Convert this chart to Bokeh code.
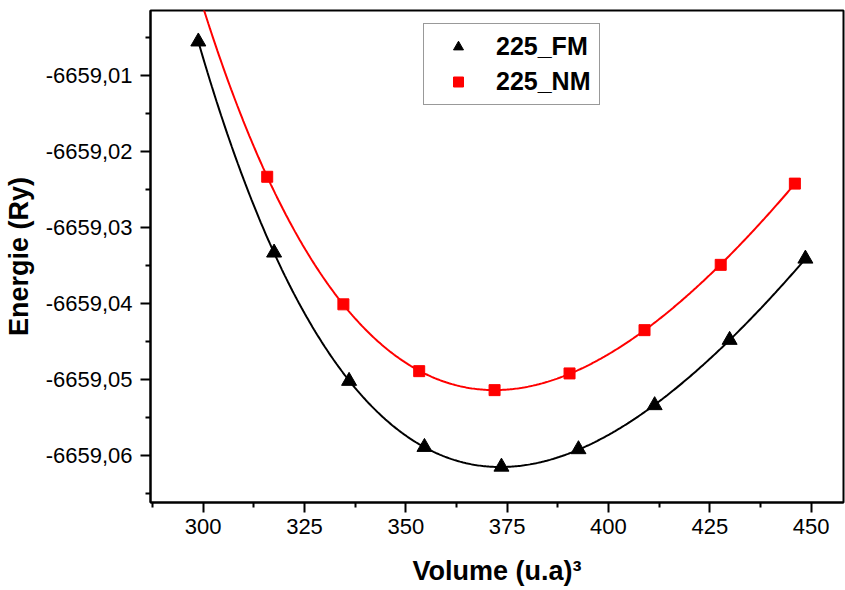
import numpy as np
from bokeh.plotting import figure
from bokeh.models import Range1d, FixedTicker, Legend, LegendItem
from bokeh.embed import file_html
from bokeh.resources import INLINE

# ---- data ----
fm_volume = [298.8, 317.5, 336.0, 354.6, 373.6, 392.6, 411.4, 429.9, 448.6]
fm_energy = [-6659.0055, -6659.0333, -6659.0502, -6659.0589, -6659.0615,
             -6659.0592, -6659.0534, -6659.0448, -6659.0341]
nm_volume = [315.8, 334.6, 353.3, 371.9, 390.4, 408.9, 427.7, 446.0]
nm_energy = [-6659.0233, -6659.0401, -6659.0489, -6659.0514, -6659.0492,
             -6659.0435, -6659.0349, -6659.0242]

x_ticks = [300, 325, 350, 375, 400, 425, 450]
x_labels = ["300", "325", "350", "375", "400", "425", "450"]
x_minor = [287.5, 312.5, 337.5, 362.5, 387.5, 412.5, 437.5]
y_ticks = [-6659.06, -6659.05, -6659.04, -6659.03, -6659.02, -6659.01]
y_labels = ["-6659,06", "-6659,05", "-6659,04", "-6659,03", "-6659,02", "-6659,01"]
y_minor = [-6659.065, -6659.055, -6659.045, -6659.035, -6659.025, -6659.015, -6659.005]

series_names = ["225_FM", "225_NM"]
fm_fit_span = [298.8, 448.6]
nm_fit_span = [296.0, 446.0]


def bm_fit(v, e, span):
    """Birch-Murnaghan style fit: cubic polynomial in V^(-2/3)."""
    v = np.asarray(v, float)
    e = np.asarray(e, float)
    e0 = e.mean()
    coeff = np.polyfit(v ** (-2.0 / 3.0) * 100, e - e0, 3)
    vv = np.linspace(span[0], span[1], 400)
    return vv, np.polyval(coeff, vv ** (-2.0 / 3.0) * 100) + e0


FONT = "Liberation Sans"

p = figure(width=845, height=590, output_backend="svg", toolbar_location=None,
           x_range=Range1d(287, 458), y_range=Range1d(-6659.0662, -6659.0014),
           min_border_left=150, min_border_right=2, min_border_top=10,
           min_border_bottom=88)

p.xgrid.visible = False
p.ygrid.visible = False
p.outline_line_color = "black"
p.outline_line_width = 2
p.background_fill_color = "white"
p.border_fill_color = "white"

fx, fy = bm_fit(fm_volume, fm_energy, fm_fit_span)
nx, ny = bm_fit(nm_volume, nm_energy, nm_fit_span)
p.line(fx, fy, line_color="black", line_width=2)
p.line(nx, ny, line_color="red", line_width=2)

r_fm = p.scatter(fm_volume, fm_energy, marker="triangle", size=15,
                 fill_color="black", line_color="black")
r_nm = p.scatter(nm_volume, nm_energy, marker="square", size=11,
                 fill_color="red", line_color="red")

# axes
p.xaxis.ticker = FixedTicker(ticks=x_ticks, minor_ticks=x_minor)
p.yaxis.ticker = FixedTicker(ticks=y_ticks, minor_ticks=y_minor)
p.xaxis.major_label_overrides = dict(zip(x_ticks, x_labels))
p.yaxis.major_label_overrides = dict(zip(y_ticks, y_labels))

for ax in (p.xaxis[0], p.yaxis[0]):
    ax.axis_line_width = 2
    ax.axis_line_color = "black"
    ax.major_tick_line_width = 2
    ax.minor_tick_line_width = 2
    ax.major_tick_out = 10
    ax.major_tick_in = 0
    ax.minor_tick_out = 5
    ax.minor_tick_in = 0
    ax.major_label_text_font = FONT
    ax.major_label_text_font_size = "22px"
    ax.major_label_text_color = "black"
    ax.axis_label_text_font = FONT
    ax.axis_label_text_font_size = "27px"
    ax.axis_label_text_font_style = "bold"
    ax.axis_label_text_color = "black"

p.xaxis.axis_label = "Volume (u.a)³"
p.yaxis.axis_label = "Energie (Ry)"
p.xaxis.major_label_standoff = 6
p.yaxis.major_label_standoff = 8
p.xaxis.axis_label_standoff = 19
p.yaxis.axis_label_standoff = 9

legend = Legend(items=[LegendItem(label=series_names[0], renderers=[r_fm]),
                       LegendItem(label=series_names[1], renderers=[r_nm])],
                location=(273, 397))
legend.border_line_color = "#333333"
legend.border_line_width = 1
legend.background_fill_color = "white"
legend.background_fill_alpha = 1
legend.label_text_font = FONT
legend.label_text_font_size = "25px"
legend.label_text_font_style = "bold"
legend.label_text_color = "black"
legend.glyph_width = 52
legend.glyph_height = 25
legend.label_height = 25
legend.padding = 8
legend.spacing = 6
legend.label_standoff = 12
legend.margin = 0
p.add_layout(legend)

open("out.html", "w").write(file_html(p, INLINE))
